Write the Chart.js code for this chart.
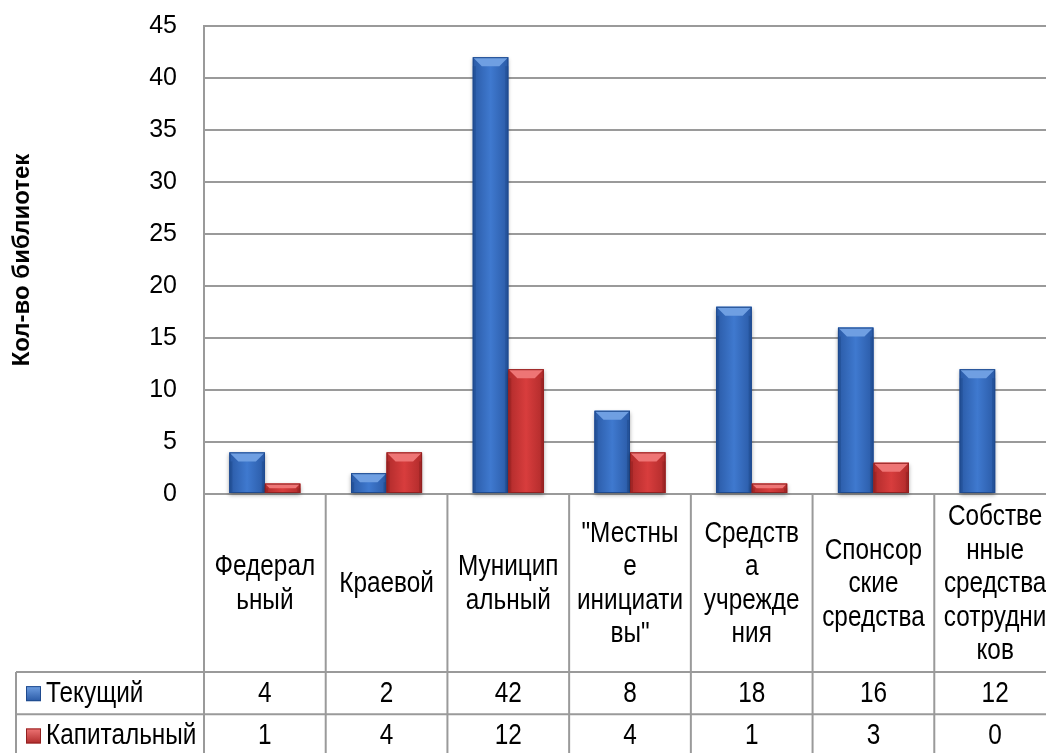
<!DOCTYPE html>
<html>
<head>
<meta charset="utf-8">
<script src="https://cdn.jsdelivr.net/npm/chart.js@4"></script>
<style>
  html, body { margin: 0; padding: 0; background: #fff; overflow: hidden; }
  #wrap { width: 1056px; height: 760px; }
</style>
</head>
<body>
<div id="wrap"><canvas id="myChart" width="1056" height="760"></canvas></div>
<script>
// data
const categories = ['Федеральный', 'Краевой', 'Муниципальный', '"Местные инициативы"',
  'Средства учреждения', 'Спонсорские средства', 'Собственные средства сотрудников'];
// how each category is broken in the table cell
const categoryLines = [
  ['Федерал', 'ьный'],
  ['Краевой'],
  ['Муницип', 'альный'],
  ['"Местны', 'е', 'инициати', 'вы"'],
  ['Средств', 'а', 'учрежде', 'ния'],
  ['Спонсор', 'ские', 'средства'],
  ['Собстве', 'нные', 'средства', 'сотрудни', 'ков']
];
const seriesNames = ['Текущий', 'Капитальный'];
const current = [4, 2, 42, 8, 18, 16, 12];
const capital = [1, 4, 12, 4, 1, 3, 0];
const yMin = 0, yMax = 45, yStep = 5;
const yTitle = 'Кол-во библиотек';

// colours for the bevelled bars
const palettes = [
  { dark: '#2a5aa6', mid: '#3f79cf', light: '#6f9fe2', edge: '#1f4a8e' },
  { dark: '#b02b2b', mid: '#d83d3d', light: '#ee7575', edge: '#922020' }
];
const gridColor = '#9a9a9a';
const sans = "'Liberation Sans', Arial, sans-serif";
const LABEL_ROW = 178, VALUE_ROW = 42.3;
const SQUEEZE = 0.84; // the table text is a narrow face

function bevelBar(ctx, left, top, w, h, pal) {
  if (h < 1) return;
  const b = Math.min(9, h / 2), s = 3;
  ctx.save();
  ctx.shadowColor = 'rgba(0,0,0,0.35)';
  ctx.shadowBlur = 4;
  ctx.shadowOffsetY = 2;
  let g = ctx.createLinearGradient(left, 0, left + w, 0);
  g.addColorStop(0, pal.dark);
  g.addColorStop(0.5, pal.mid);
  g.addColorStop(1, pal.dark);
  ctx.fillStyle = g;
  ctx.fillRect(left, top, w, h);
  ctx.restore();
  // top face
  ctx.fillStyle = pal.light;
  ctx.beginPath();
  ctx.moveTo(left, top);
  ctx.lineTo(left + w, top);
  ctx.lineTo(left + w - b, top + b);
  ctx.lineTo(left + b, top + b);
  ctx.closePath();
  ctx.fill();
  // side edges
  ctx.fillStyle = pal.edge;
  ctx.globalAlpha = 0.55;
  ctx.fillRect(left, top + b, s, h - b);
  ctx.fillRect(left + w - s, top + b, s, h - b);
  ctx.globalAlpha = 1;
  ctx.strokeStyle = pal.edge;
  ctx.lineWidth = 1;
  ctx.strokeRect(left + 0.5, top + 0.5, w - 1, h - 1);
}

const bevelPlugin = {
  id: 'bevel',
  afterDatasetsDraw(chart) {
    const ctx = chart.ctx;
    chart.data.datasets.forEach((ds, i) => {
      chart.getDatasetMeta(i).data.forEach(el => {
        const h = el.base - el.y;
        bevelBar(ctx, el.x - el.width / 2, el.y, el.width, h, palettes[i]);
      });
    });
  }
};

function markerSquare(ctx, x, y, size, pal) {
  let g = ctx.createLinearGradient(0, y, 0, y + size);
  g.addColorStop(0, pal.light);
  g.addColorStop(1, pal.dark);
  ctx.fillStyle = g;
  ctx.fillRect(x, y, size, size);
  ctx.strokeStyle = pal.edge;
  ctx.lineWidth = 1;
  ctx.strokeRect(x + 0.5, y + 0.5, size - 1, size - 1);
}

function narrowText(ctx, t, x, y) {
  ctx.save();
  ctx.translate(x, y);
  ctx.scale(SQUEEZE, 1);
  ctx.fillStyle = '#000';
  ctx.fillText(t, 0, 0);
  ctx.restore();
}

// data table under the plot
const tablePlugin = {
  id: 'dataTable',
  afterDraw(chart) {
    const ctx = chart.ctx, area = chart.chartArea, xs = chart.scales.x;
    const n = categories.length;
    const colW = (area.right - area.left) / n;
    const y0 = area.bottom, y1 = y0 + LABEL_ROW, y2 = y1 + VALUE_ROW;
    const legendLeft = 16;
    ctx.save();
    ctx.strokeStyle = gridColor;
    ctx.lineWidth = 2;
    ctx.beginPath();
    for (let i = 0; i <= n; i++) {
      const x = xs.getPixelForValue(0) - colW / 2 + i * colW;
      ctx.moveTo(x, y0); ctx.lineTo(x, chart.height);
    }
    ctx.moveTo(legendLeft, y1); ctx.lineTo(area.right, y1);
    ctx.moveTo(legendLeft, y2); ctx.lineTo(area.right, y2);
    ctx.moveTo(legendLeft, y1); ctx.lineTo(legendLeft, chart.height);
    ctx.stroke();

    ctx.font = '29px ' + sans;
    ctx.textAlign = 'center';
    ctx.textBaseline = 'middle';
    const lh = 33.5, mid = (y0 + y1) / 2;
    categoryLines.forEach((lines, i) => {
      const x = xs.getPixelForValue(i);
      lines.forEach((t, k) => {
        narrowText(ctx, t, x, mid + (k - (lines.length - 1) / 2) * lh + 1);
      });
    });
    const rows = [current, capital];
    rows.forEach((vals, r) => {
      const cy = y1 + VALUE_ROW * r + VALUE_ROW / 2 + 1;
      ctx.textAlign = 'center';
      vals.forEach((v, i) => narrowText(ctx, String(v), xs.getPixelForValue(i), cy));
      markerSquare(ctx, 26, cy - 8, 15, palettes[r]);
      ctx.textAlign = 'left';
      narrowText(ctx, seriesNames[r], 46, cy);
    });
    ctx.restore();
  }
};

const ctx = document.getElementById('myChart').getContext('2d');
const myChart = new Chart(ctx, {
  type: 'bar',
  data: {
    labels: categories,
    datasets: [
      { label: seriesNames[0], data: current, backgroundColor: palettes[0].mid },
      { label: seriesNames[1], data: capital, backgroundColor: palettes[1].mid }
    ]
  },
  options: {
    responsive: false,
    animation: false,
    devicePixelRatio: 1,
    categoryPercentage: 0.583,
    barPercentage: 1,
    layout: { padding: { top: 26, left: 0, right: 0, bottom: 760 - 494 - LABEL_ROW } },
    plugins: { legend: { display: false }, tooltip: { enabled: false } },
    scales: {
      x: {
        ticks: { display: false },
        grid: { display: false },
        border: { display: false },
        afterFit(s) { s.height = LABEL_ROW; }
      },
      y: {
        min: yMin, max: yMax,
        ticks: { stepSize: yStep, padding: 27, color: '#000',
          font: { family: sans, size: 25 } },
        grid: { color: gridColor, lineWidth: 2, drawTicks: false },
        border: { color: gridColor, width: 2 },
        title: { display: true, text: yTitle, color: '#000', padding: { top: 8, bottom: 0 },
          font: { family: sans, size: 24, weight: 'bold' } },
        afterFit(s) { s.width = 204; s.paddingTop = 0; s.paddingBottom = 0; }
      }
    }
  },
  plugins: [bevelPlugin, tablePlugin]
});
</script>
</body>
</html>
